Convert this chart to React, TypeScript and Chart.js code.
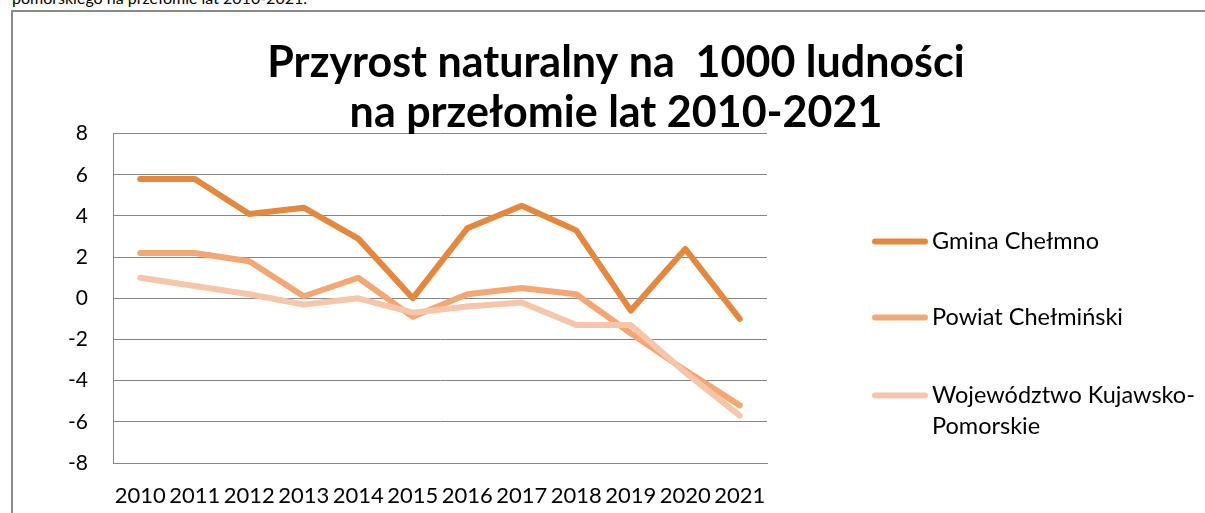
import React, { useEffect, useRef } from "react";
import { Chart, registerables } from "chart.js";

Chart.register(...registerables);

const years = ["2010", "2011", "2012", "2013", "2014", "2015", "2016", "2017", "2018", "2019", "2020", "2021"];
const gminaChelmno = [5.8, 5.8, 4.1, 4.4, 2.9, 0.0, 3.4, 4.5, 3.3, -0.6, 2.4, -1.0];
const powiatChelminski = [2.2, 2.2, 1.8, 0.1, 1.0, -0.9, 0.2, 0.5, 0.2, -1.7, -3.5, -5.2];
const wojewodztwo = [1.0, 0.6, 0.2, -0.3, 0.0, -0.7, -0.4, -0.2, -1.3, -1.3, -3.6, -5.7];
const seriesNames = ["Gmina Chełmno", "Powiat Chełmiński", "Województwo Kujawsko-Pomorskie"];
const legendLines = [["Gmina Chełmno"], ["Powiat Chełmiński"], ["Województwo Kujawsko-", "Pomorskie"]];
const titleLines = ["Przyrost naturalny na  1000 ludności", "na przełomie lat 2010-2021"];
const yMin = -8;
const yMax = 8;
const yStep = 2;

const COLORS = ["#E5883E", "#F4A673", "#F7C6AA"];

const legendPlugin = {
  id: "sideLegend",
  afterDraw(chart: any) {
    const ctx = chart.ctx;
    const area = chart.chartArea;
    const x0 = area.right + 105;
    const lineLen = 56;
    const ys = [area.top + 108, area.top + 184, area.top + 262];
    ctx.save();
    chart.data.datasets.forEach((ds: any, i: number) => {
      const y = ys[i];
      ctx.beginPath();
      ctx.strokeStyle = ds.borderColor;
      ctx.lineWidth = 6;
      ctx.lineCap = "round";
      ctx.moveTo(x0 + 3, y);
      ctx.lineTo(x0 + lineLen - 3, y);
      ctx.stroke();
      ctx.fillStyle = "#000";
      ctx.font = "23.5px Lato";
      ctx.textAlign = "left";
      ctx.textBaseline = "middle";
      legendLines[i].forEach((t, k) => {
        ctx.fillText(t, x0 + lineLen + 4, y + k * 31);
      });
    });
    ctx.restore();
  },
};

export default function App() {
  const ref = useRef<HTMLCanvasElement>(null);
  useEffect(() => {
    if (!ref.current) return;
    const chart = new Chart(ref.current, {
      type: "line",
      data: {
        labels: years,
        datasets: [
          { label: seriesNames[0], data: gminaChelmno, borderColor: COLORS[0], backgroundColor: COLORS[0], order: 0 },
          { label: seriesNames[1], data: powiatChelminski, borderColor: COLORS[1], backgroundColor: COLORS[1], order: 2 },
          { label: seriesNames[2], data: wojewodztwo, borderColor: COLORS[2], backgroundColor: COLORS[2], order: 1 },
        ].map((d) => ({
          ...d,
          borderWidth: 6,
          pointRadius: 0,
          pointHoverRadius: 0,
          tension: 0,
          borderJoinStyle: "round" as const,
          borderCapStyle: "round" as const,
          yAxisID: "y",
        })),
      },
      options: {
        responsive: false,
        animation: false,
        devicePixelRatio: 1,
        layout: { padding: { left: 14, right: 0, top: 0, bottom: 0 } },
        plugins: {
          legend: { display: false },
          tooltip: { enabled: false },
          title: {
            display: true,
            text: titleLines,
            color: "#000",
            font: { family: "Lato", size: 43, weight: "bold", lineHeight: 1.17 },
            padding: { top: 26, bottom: -5 },
          },
        },
        scales: {
          x: {
            offset: true,
            grid: { display: true, drawOnChartArea: false, drawTicks: false },
            border: { display: true, color: "#868686", width: 1 },
            ticks: {
              color: "#000",
              font: { family: "Lato", size: 22 },
              padding: 20,
              autoSkip: false,
              maxRotation: 0,
              minRotation: 0,
            },
            afterFit: (s: any) => {
              s.height = 50;
            },
          },
          y: {
            min: yMin,
            max: yMax,
            position: "left",
            grid: { color: "#868686", lineWidth: 1, drawTicks: false },
            border: { display: true, color: "#868686", width: 1 },
            ticks: {
              stepSize: yStep,
              color: "#000",
              font: { family: "Lato", size: 21 },
              padding: 25,
            },
            afterFit: (s: any) => {
              s.width = 86;
            },
          },
          legendSpace: {
            type: "linear",
            position: "right",
            display: true,
            grid: { display: false },
            border: { display: false },
            ticks: { display: false },
            afterFit: (s: any) => {
              s.width = 438;
            },
          },
        },
      },
      plugins: [legendPlugin],
    } as any);
    return () => chart.destroy();
  }, []);

  return (
    <div style={{ position: "fixed", inset: 0, overflow: "hidden", background: "#fff" }}>
      <div
        style={{
          position: "absolute",
          left: 12,
          top: -11,
          fontFamily: "Lato",
          fontSize: 16,
          lineHeight: "18px",
          color: "#000",
          whiteSpace: "nowrap",
        }}
      >
        pomorskiego na przełomie lat 2010-2021.
      </div>
      <div
        style={{
          position: "absolute",
          left: 11,
          top: 10,
          width: 1300,
          height: 600,
          borderLeft: "2px solid #8a8a8a",
          borderTop: "2px solid #8a8a8a",
        }}
      >
        <canvas ref={ref} width={1192} height={501} style={{ display: "block", width: 1192, height: 501 }} />
      </div>
    </div>
  );
}
